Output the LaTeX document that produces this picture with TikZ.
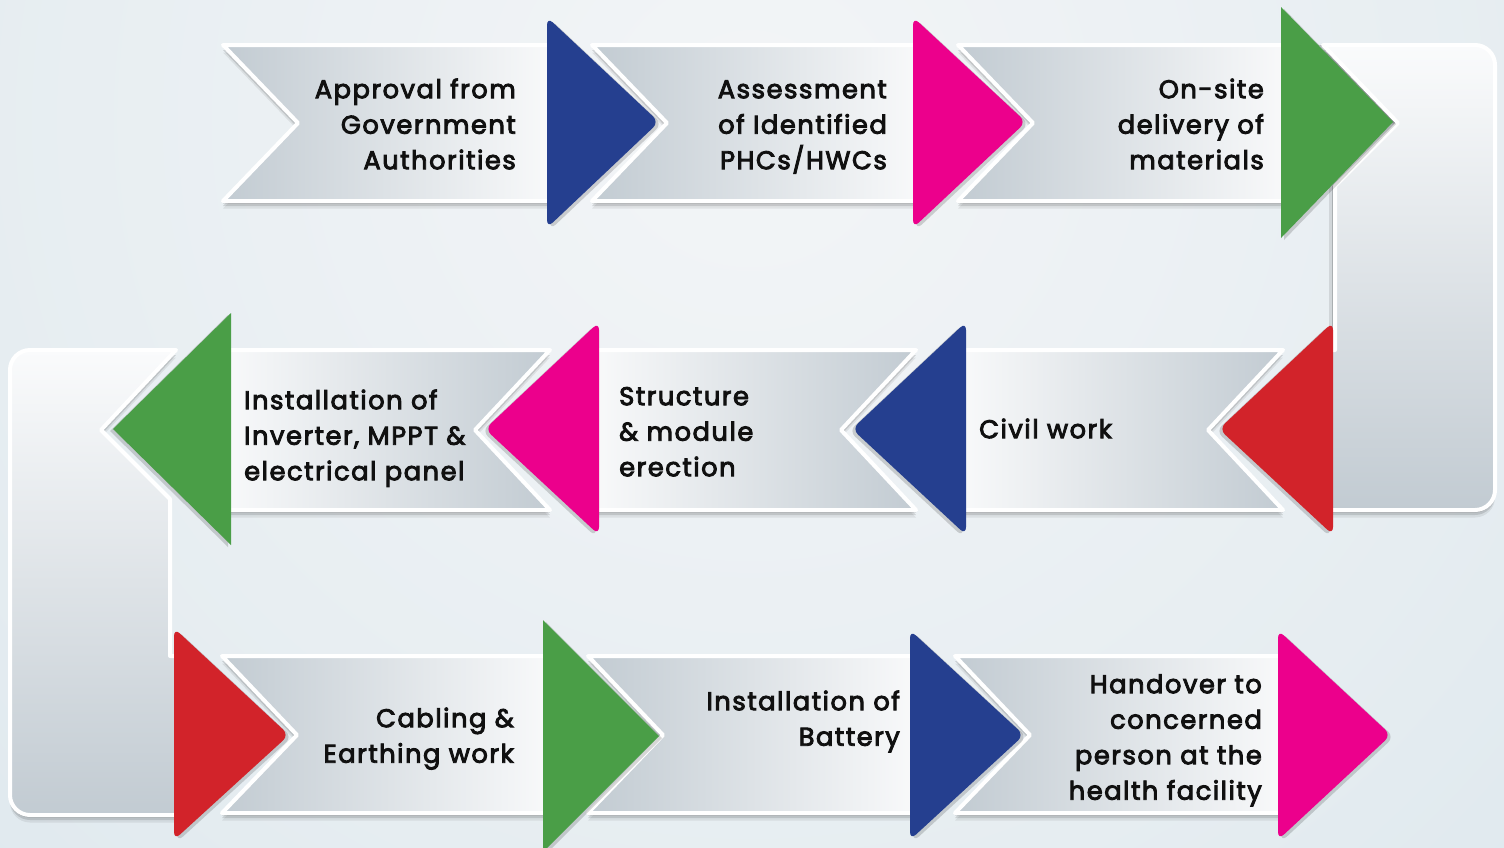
\documentclass[tikz,border=0pt]{standalone}
\usepackage{fontspec}
\setmainfont{Poppins}[LetterSpace=6.0, FakeBold=3.5]
\definecolor{triblue}{HTML}{253F8F}
\definecolor{tripink}{HTML}{EC008C}
\definecolor{trigreen}{HTML}{4A9E47}
\definecolor{trired}{HTML}{D2232A}
\definecolor{bandgrey}{HTML}{C2CBD2}
\definecolor{bandlight}{HTML}{F8F9FA}
\definecolor{frametop}{HTML}{FAFBFC}
\definecolor{bgA}{HTML}{F3F5F7}
\definecolor{bgM}{HTML}{E6EDF1}
\definecolor{bgB}{HTML}{D4E2EA}
\definecolor{textc}{HTML}{101010}
\pgfdeclareradialshading{bgshade}{\pgfpoint{0bp}{0bp}}{color(0bp)=(bgA); color(14bp)=(bgM); color(29bp)=(bgB); color(50bp)=(bgB)}
\newcommand\topstrut{\rule{0pt}{24pt}}
\tikzset{
  softshadow/.style={
    preaction={fill=black, fill opacity=.16, transform canvas={yshift=-2.5pt}},
    preaction={fill=black, fill opacity=.12, transform canvas={yshift=-5pt}},
    preaction={fill=black, fill opacity=.07, transform canvas={yshift=-7.5pt}}},
  sideshadow/.style={
    preaction={fill=black, fill opacity=.18, transform canvas={xshift=-3pt}},
    preaction={fill=black, fill opacity=.10, transform canvas={xshift=-6pt}}},
  band/.style={softshadow, draw=white, line width=4pt, line join=round},
  greyleft/.style={left color=bandgrey, right color=bandlight},
  greyright/.style={left color=bandlight, right color=bandgrey},
  framebox/.style={softshadow, top color=frametop, bottom color=bandgrey,
    draw=white, line width=4pt, line join=round},
  headR/.style={preaction={fill=black, fill opacity=.16, transform canvas={xshift=3pt, yshift=-2pt}}},
  headL/.style={preaction={fill=black, fill opacity=.16, transform canvas={xshift=-3pt, yshift=-2pt}}},
  soft/.style={rounded corners=8pt},
  lbl/.style={font=\fontsize{25.7}{35.5}\selectfont, text=textc, inner sep=0pt},
  lblR/.style={lbl, anchor=north east, align=right},
  lblL/.style={lbl, anchor=north west, align=left}
}
\begin{document}
\begin{tikzpicture}[x=1pt,y=-1pt]
\useasboundingbox (0,0) rectangle (1504,847);
% backdrop
\begin{scope}
  \clip (0,0) rectangle (1504,847);
  \fill[bgB] (0,0) rectangle (1504,847);
  \shade[shading=bgshade] (750,120) circle (1400);
\end{scope}

% turning frames at the row ends
\path[sideshadow, framebox] (1323,45) -- (1398,123) -- (1335,186) -- (1335,350) -- (1328,350) -- (1328,510)
  -- (1475,510) .. controls (1486,510) and (1495,501) .. (1495,490) -- (1495,65)
  .. controls (1495,54) and (1486,45) .. (1475,45) -- cycle;
\path[framebox] (176,350) -- (101,430) -- (170,499) -- (170,656) -- (180,656) -- (180,815)
  -- (30,815) .. controls (19,815) and (10,806) .. (10,795) -- (10,370)
  .. controls (10,359) and (19,350) .. (30,350) -- cycle;

% row 1 bands
\path[band, greyleft] (223,45) -- (298,123) -- (223,201) -- (550,201) -- (550,45) -- cycle;
\path[band, greyleft] (592,45) -- (667,123) -- (592,201) -- (916,201) -- (916,45) -- cycle;
\path[band, greyleft] (958,45) -- (1033,123) -- (958,201) -- (1284,201) -- (1284,45) -- cycle;
% row 2 bands
\path[band, greyright] (228,350) -- (228,510) -- (550,510) -- (475,430) -- (550,350) -- cycle;
\path[band, greyright] (596,350) -- (596,510) -- (916,510) -- (841,430) -- (916,350) -- cycle;
\path[band, greyright] (963,350) -- (963,510) -- (1283,510) -- (1208,430) -- (1283,350) -- cycle;
% row 3 bands
\path[band, greyleft] (222,656) -- (297,735) -- (222,813) -- (546,813) -- (546,656) -- cycle;
\path[band, greyleft] (588,656) -- (663,735) -- (588,813) -- (913,813) -- (913,656) -- cycle;
\path[band, greyleft] (955,656) -- (1030,735) -- (955,813) -- (1281,813) -- (1281,656) -- cycle;

% arrow heads, row 1
\fill[headR, soft, triblue] (547,17) -- (659,122) -- (547,228) -- cycle;
\fill[headR, soft, tripink] (913,17) -- (1026,122) -- (913,228) -- cycle;
\fill[headR, trigreen] (1281,7) -- (1393,122) -- (1281,238) -- cycle;
% arrow heads, row 2
\fill[headL, soft, trired] (1333,322) -- (1219,429) -- (1333,535) -- cycle;
\fill[headL, soft, triblue] (966,322) -- (852,429) -- (966,535) -- cycle;
\fill[headL, soft, tripink] (599,322) -- (485,429) -- (599,535) -- cycle;
\fill[headL, trigreen] (231,313) -- (113,429) -- (231,545) -- cycle;
% arrow heads, row 3
\fill[headR, soft, trired] (174,628) -- (289,735) -- (174,840) -- cycle;
\fill[headR, trigreen] (543,620) -- (659,736) -- (543,852) -- cycle;
\fill[headR, soft, triblue] (910,630) -- (1024,735) -- (910,840) -- cycle;
\fill[headR, soft, tripink] (1278,630) -- (1391,735) -- (1278,840) -- cycle;

% step labels
\node[lblR] (s1) at (516,74) {\topstrut Approval from\\Government\\Authorities};
\node[lblR] (s2) at (887,74) {\topstrut Assessment\\of Identified\\PHCs/HWCs};
\node[lblR] (s3) at (1264,74) {\topstrut On-site\\delivery of\\materials};
\node[lblL] (s4) at (979,414) {\topstrut Civil work};
\node[lblL] (s5) at (619,381) {\topstrut Structure\\\& module\\erection};
\node[lblL] (s6) at (244,385) {\topstrut Installation of\\Inverter, MPPT \&\\electrical panel};
\node[lblR] (s7) at (514,703) {\topstrut Cabling \&\\Earthing work};
\node[lblR] (s8) at (900,686) {\topstrut Installation of\\Battery};
\node[lblR] (s9) at (1262,669) {\topstrut Handover to\\concerned\\person at the\\health facility};
\end{tikzpicture}
\end{document}
